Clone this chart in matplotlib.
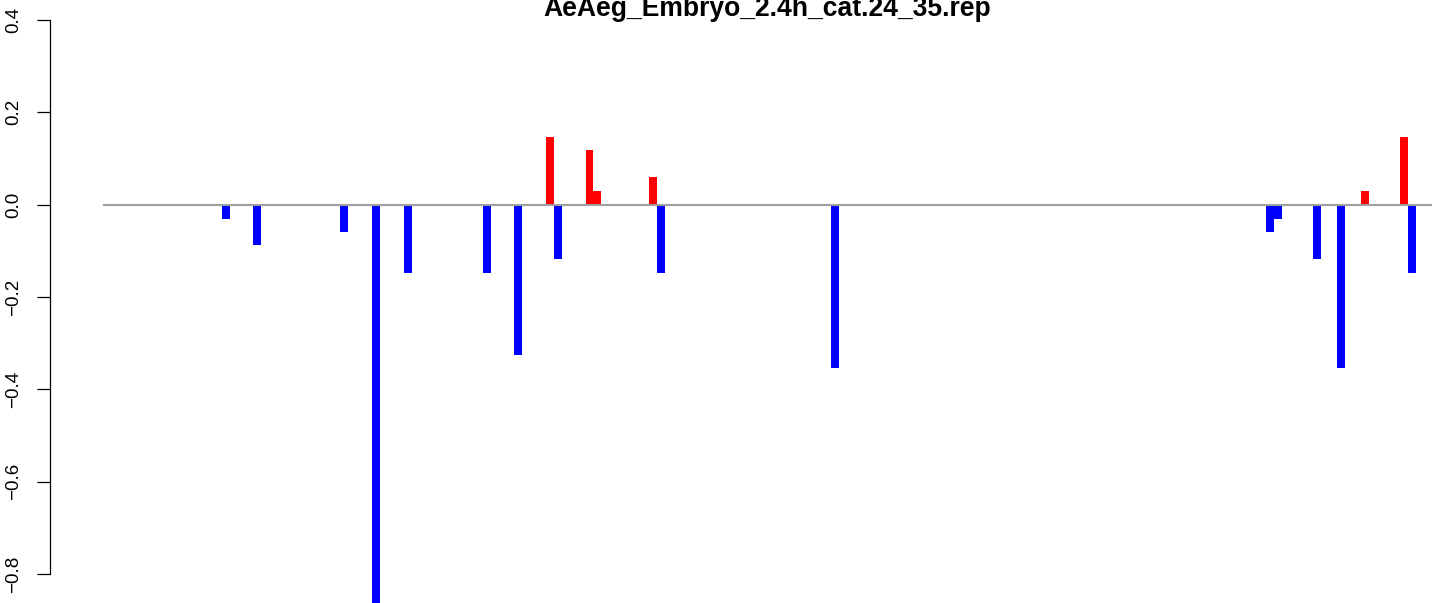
import matplotlib
matplotlib.use("Agg")
import matplotlib.pyplot as plt
import numpy as np

plt.rcParams['font.family'] = ['Liberation Sans', 'DejaVu Sans']

title = "AeAeg_Embryo_2.4h_cat.24_35.rep"
n_bins = 168
bin_index = [15, 19, 30, 34, 38, 48, 52, 56, 57, 61, 62, 69, 70, 92,
             147, 148, 153, 156, 159, 164, 165]
values = [-0.030, -0.088, -0.060, -0.88, -0.147, -0.147, -0.325, 0.147, -0.118,
          0.1185, 0.030, 0.060, -0.147, -0.353,
          -0.060, -0.030, -0.118, -0.353, 0.030, 0.147, -0.147]
yticks = [-0.8, -0.6, -0.4, -0.2, 0.0, 0.2, 0.4]

W, H, DPI = 1436, 603, 100
fig = plt.figure(figsize=(W / DPI, H / DPI), dpi=DPI)

px_unit_x = 1329 / n_bins
x_left_px, line_start_px = 50, 103
ax = fig.add_axes([x_left_px / W, 0, 1 - x_left_px / W, 1])
ax.set_xlim(-(line_start_px - x_left_px) / px_unit_x, (W - line_start_px) / px_unit_x)
px_unit_y = 461.7
zero_px = 204.7
ax.set_ylim(-(H - zero_px) / px_unit_y, zero_px / px_unit_y)

colors = ['red' if v > 0 else 'blue' for v in values]
ax.bar(bin_index, values, width=1.0, align='edge', color=colors, linewidth=0, zorder=2)
ax.hlines(0, 0, n_bins, colors='#a0a0a0', linewidth=1.5, zorder=3)

for s in ['top', 'right', 'bottom']:
    ax.spines[s].set_visible(False)
ax.spines['left'].set_bounds(-0.8, 0.4)
ax.spines['left'].set_linewidth(0.9)
ax.set_xticks([])
ax.set_yticks(yticks)
ax.set_yticklabels([f"{t:.1f}".replace('-', '\u2212') for t in yticks],
                   rotation=90, va='center')
ax.tick_params(axis='y', length=9.4, width=0.9, pad=10.5, labelsize=13.5)
ax.patch.set_alpha(0)

fig.text(767 / W, 1 - 16 / H, title, ha='center', va='baseline',
         fontsize=19.1, fontweight='bold')

fig.savefig("out.png", dpi=DPI)
